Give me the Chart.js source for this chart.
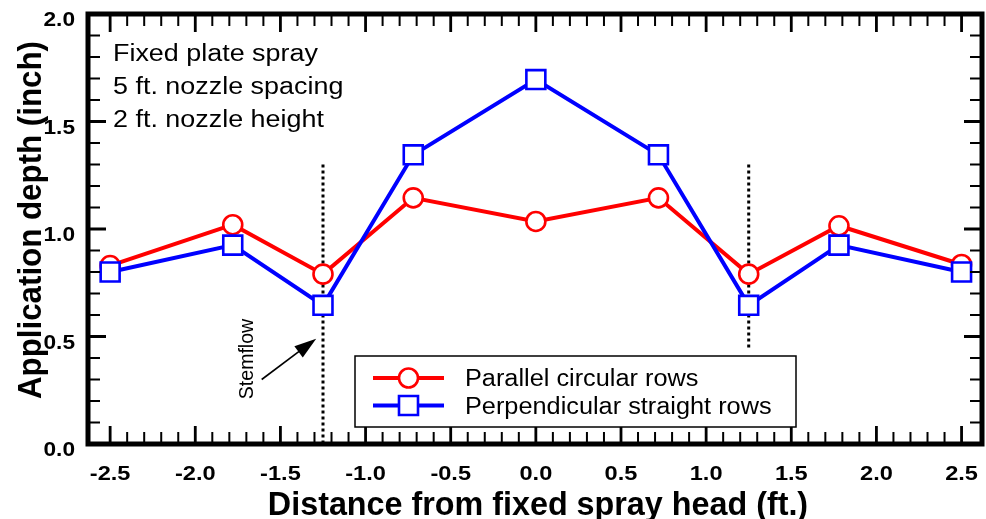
<!DOCTYPE html>
<html>
<head>
<meta charset="utf-8">
<script src="https://cdn.jsdelivr.net/npm/chart.js@4.4.1/dist/chart.umd.min.js"></script>
<style>
html, body { margin: 0; padding: 0; background: #fff; }
#chart { display: block; }
</style>
</head>
<body>
<canvas id="chart" width="986" height="519"></canvas>
<script>
// distance from the spray head (ft.)
const distances = [-2.5, -1.78, -1.25, -0.72, 0, 0.72, 1.25, 1.78, 2.5];
const parallelRows = [0.83, 1.02, 0.79, 1.145, 1.035, 1.145, 0.79, 1.015, 0.835];
const perpendicularRows = [0.80, 0.925, 0.645, 1.345, 1.695, 1.345, 0.645, 0.925, 0.80];

const seriesNames = ["Parallel circular rows", "Perpendicular straight rows"];

const xTicks = [-2.5, -2.0, -1.5, -1.0, -0.5, 0.0, 0.5, 1.0, 1.5, 2.0, 2.5];
const xTickLabels = ["-2.5", "-2.0", "-1.5", "-1.0", "-0.5", "0.0", "0.5", "1.0", "1.5", "2.0", "2.5"];
const yTicks = [0.0, 0.5, 1.0, 1.5, 2.0];
const yTickLabels = ["0.0", "0.5", "1.0", "1.5", "2.0"];

const xTitle = "Distance from fixed spray head (ft.)";
const yTitle = "Application depth (inch)";
const noteLines = ["Fixed plate spray", "5 ft. nozzle spacing", "2 ft. nozzle height"];
const stemflowLabel = "Stemflow";

// stemflow markers: x, top, bottom
const stemflowLeft = [-1.25, 1.3, 0.0];
const stemflowRight = [1.25, 1.3, 0.44];
const arrowFrom = [-1.61, 0.30];
const arrowTo = [-1.29, 0.49];

const FONT = "'Liberation Sans', Arial, sans-serif";
const RED = "#ff0000";
const BLUE = "#0000ff";

function texto(ctx, s, x, y, font, sx, align, rot) {
    ctx.save();
    ctx.translate(x, y);
    if (rot) ctx.rotate(rot);
    ctx.scale(sx, 1);
    ctx.font = font;
    ctx.textAlign = align;
    ctx.textBaseline = "alphabetic";
    ctx.fillStyle = "#000";
    ctx.fillText(s, 0, 0);
    ctx.restore();
}

function subdivide(majors) {
    const out = [];
    for (let i = 0; i < majors.length - 1; i++) {
        for (let k = 1; k < 5; k++) out.push(majors[i] + (majors[i + 1] - majors[i]) * k / 5);
    }
    return out;
}

const framePlugin = {
    id: "frame",
    afterDraw(chart) {
        const ctx = chart.ctx;
        const a = chart.chartArea;
        const xs = chart.scales.x;
        const ys = chart.scales.y;

        ctx.save();
        ctx.strokeStyle = "#000";
        ctx.lineCap = "butt";

        // ticks inside the frame on all four sides
        function tickX(v, len, w) {
            const px = xs.getPixelForValue(v);
            ctx.lineWidth = w;
            ctx.beginPath();
            ctx.moveTo(px, a.bottom); ctx.lineTo(px, a.bottom - len);
            ctx.moveTo(px, a.top); ctx.lineTo(px, a.top + len);
            ctx.stroke();
        }
        function tickY(v, len, w) {
            const py = ys.getPixelForValue(v);
            ctx.lineWidth = w;
            ctx.beginPath();
            ctx.moveTo(a.left, py); ctx.lineTo(a.left + len, py);
            ctx.moveTo(a.right, py); ctx.lineTo(a.right - len, py);
            ctx.stroke();
        }
        subdivide(xTicks).forEach(v => tickX(v, 12, 2));
        xTicks.forEach(v => tickX(v, 18, 2.8));
        subdivide(yTicks).forEach(v => tickY(v, 12, 2));
        yTicks.forEach(v => tickY(v, 18, 2.8));

        ctx.lineWidth = 5;
        ctx.strokeRect(a.left, a.top, a.right - a.left, a.bottom - a.top);

        // tick labels
        xTicks.forEach((v, i) => {
            texto(ctx, xTickLabels[i], xs.getPixelForValue(v), 480, "bold 20px " + FONT, 1.18, "center");
        });
        yTicks.forEach((v, i) => {
            texto(ctx, yTickLabels[i], 75, ys.getPixelForValue(v) + 12, "bold 21px " + FONT, 1.08, "right");
        });

        // axis titles
        texto(ctx, xTitle, 538, 515, "bold 34px " + FONT, 0.95, "center");
        texto(ctx, yTitle, 41, 220, "bold 34px " + FONT, 0.92, "center", -Math.PI / 2);

        // notes
        noteLines.forEach((s, i) => {
            texto(ctx, s, 113, 61 + i * 33, "23px " + FONT, 1.17, "left");
        });

        // stemflow label and arrow
        texto(ctx, stemflowLabel, 253, 359, "21px " + FONT, 0.93, "center", -Math.PI / 2);
        const x0 = xs.getPixelForValue(arrowFrom[0]), y0 = ys.getPixelForValue(arrowFrom[1]);
        const x1 = xs.getPixelForValue(arrowTo[0]), y1 = ys.getPixelForValue(arrowTo[1]);
        const ang = Math.atan2(y1 - y0, x1 - x0);
        ctx.lineWidth = 1.6;
        ctx.beginPath();
        ctx.moveTo(x0, y0);
        ctx.lineTo(x1 - 18 * Math.cos(ang), y1 - 18 * Math.sin(ang));
        ctx.stroke();
        ctx.fillStyle = "#000";
        ctx.beginPath();
        ctx.moveTo(x1, y1);
        ctx.lineTo(x1 - 22 * Math.cos(ang) + 7 * Math.sin(ang), y1 - 22 * Math.sin(ang) - 7 * Math.cos(ang));
        ctx.lineTo(x1 - 22 * Math.cos(ang) - 7 * Math.sin(ang), y1 - 22 * Math.sin(ang) + 7 * Math.cos(ang));
        ctx.closePath();
        ctx.fill();

        // legend
        ctx.fillStyle = "#fff";
        ctx.fillRect(355, 356, 441, 71);
        ctx.lineWidth = 1.5;
        ctx.strokeRect(355, 356, 441, 71);
        const rows = [378, 405.5];
        [RED, BLUE].forEach((c, i) => {
            const y = rows[i];
            ctx.strokeStyle = c;
            ctx.lineWidth = 4;
            ctx.beginPath();
            ctx.moveTo(373, y); ctx.lineTo(444, y);
            ctx.stroke();
            ctx.fillStyle = "#fff";
            ctx.lineWidth = 2.6;
            ctx.beginPath();
            if (i === 0) ctx.arc(408.5, y, 9.5, 0, Math.PI * 2);
            else ctx.rect(399, y - 9.5, 19, 19);
            ctx.fill();
            ctx.stroke();
            texto(ctx, seriesNames[i], 465, y + 8, "23px " + FONT, 1.1, "left");
        });

        ctx.restore();
    }
};

function puntos(xv, yv) {
    return xv.map((x, i) => ({ x: x, y: yv[i] }));
}

function stemflowPoints(s) {
    return [{ x: s[0], y: s[1] }, { x: s[0], y: s[2] }];
}

const dotted = {
    borderColor: "#000",
    borderWidth: 3,
    borderDash: [3, 3],
    pointRadius: 0,
    fill: false,
    order: 3
};

new Chart(document.getElementById("chart"), {
    type: "line",
    data: {
        datasets: [
            Object.assign({ data: stemflowPoints(stemflowLeft) }, dotted),
            Object.assign({ data: stemflowPoints(stemflowRight) }, dotted),
            {
                label: seriesNames[0],
                data: puntos(distances, parallelRows),
                borderColor: RED,
                borderWidth: 4,
                pointStyle: "circle",
                pointRadius: 9.5,
                pointBorderWidth: 2.6,
                pointBackgroundColor: "#fff",
                pointBorderColor: RED,
                tension: 0,
                order: 1
            },
            {
                label: seriesNames[1],
                data: puntos(distances, perpendicularRows),
                borderColor: BLUE,
                borderWidth: 4,
                pointStyle: "rect",
                pointRadius: 13.4,
                pointBorderWidth: 2.6,
                pointBackgroundColor: "#fff",
                pointBorderColor: BLUE,
                tension: 0,
                order: 0
            }
        ]
    },
    options: {
        responsive: false,
        animation: false,
        devicePixelRatio: 1,
        layout: { autoPadding: false, padding: { left: 88, top: 14, right: 4, bottom: 75 } },
        plugins: { legend: { display: false }, tooltip: { enabled: false } },
        scales: {
            x: { type: "linear", min: -2.63, max: 2.62, display: false },
            y: { type: "linear", min: 0, max: 2, display: false }
        }
    },
    plugins: [framePlugin]
});
</script>
</body>
</html>
